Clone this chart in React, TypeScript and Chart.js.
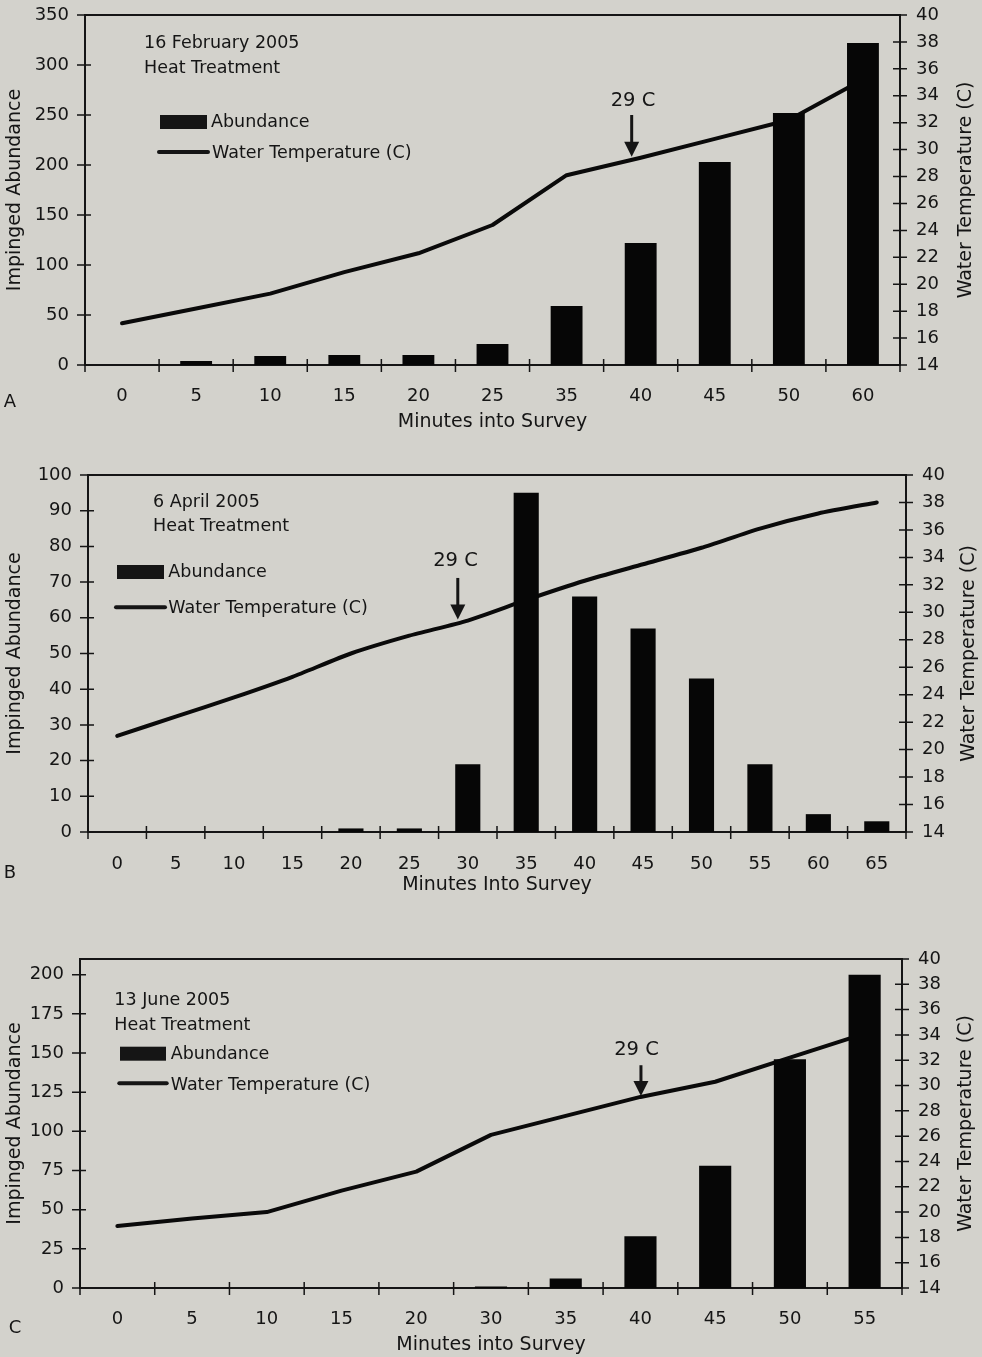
import React, { useEffect, useRef } from 'react';
import { Chart, registerables } from 'chart.js';

Chart.register(...registerables);

// ---------------- data ----------------
const minutesA = ['0', '5', '10', '15', '20', '25', '35', '40', '45', '50', '60'];
const abundanceA = [0, 4, 9, 10, 10, 21, 59, 122, 203, 252, 322];
const temperatureA = [17.1, 18.2, 19.3, 20.9, 22.3, 24.4, 28.1, 29.4, 30.8, 32.2, 35.2];
const abundanceTicksA = [0, 50, 100, 150, 200, 250, 300, 350];
const abundanceMaxA = 350;

const minutesB = ['0', '5', '10', '15', '20', '25', '30', '35', '40', '45', '50', '55', '60', '65'];
const abundanceB = [0, 0, 0, 0, 1, 1, 19, 95, 66, 57, 43, 19, 5, 3];
const temperatureB = [21.0, 22.4, 23.8, 25.3, 27.0, 28.3, 29.4, 30.9, 32.3, 33.5, 34.7, 36.1, 37.2, 38.0];
const abundanceTicksB = [0, 10, 20, 30, 40, 50, 60, 70, 80, 90, 100];
const abundanceMaxB = 100;

const minutesC = ['0', '5', '10', '15', '20', '30', '35', '40', '45', '50', '55'];
const abundanceC = [0, 0, 0, 0, 0, 1, 6, 33, 78, 146, 200];
const temperatureC = [18.9, 19.5, 20.0, 21.7, 23.2, 26.1, 27.6, 29.1, 30.3, 32.2, 34.1];
const abundanceTicksC = [0, 25, 50, 75, 100, 125, 150, 175, 200];
const abundanceMaxC = 210;

const temperatureTicks = [14, 16, 18, 20, 22, 24, 26, 28, 30, 32, 34, 36, 38, 40];
const temperatureMin = 14;
const temperatureMax = 40;

// ---------------- styling ----------------
const FONT = "'DejaVu Sans', 'Liberation Sans', sans-serif";
const INK = '#151515';
const BG = 'rgb(211,210,204)';
const W = 982;

Chart.defaults.font.family = FONT;
Chart.defaults.color = INK;

type PanelCfg = {
  letter: string;
  date: string;
  xTitle: string;
  labels: string[];
  abundance: number[];
  temperature: number[];
  leftTicks: number[];
  leftMax: number;
  tension: number;
  top: number;
  height: number;
  area: { left: number; right: number; top: number; bottom: number };
  xTickPad: number;
  xTitlePad: number;
  letterPos: [number, number];
  rightTitleX: number;
  noteX: number;
  noteY: [number, number];
  legendRect: [number, number, number, number];
  abText: [number, number];
  legendLine: [number, number, number];
  wtText: [number, number];
  arrow: { index: number; dx: number; textDx: number; len: number; gap: number };
};

const panels: PanelCfg[] = [
  {
    letter: 'A', date: '16 February 2005', xTitle: 'Minutes into Survey',
    labels: minutesA, abundance: abundanceA, temperature: temperatureA,
    leftTicks: abundanceTicksA, leftMax: abundanceMaxA, tension: 0,
    top: 0, height: 440,
    area: { left: 85, right: 900, top: 15, bottom: 365 },
    xTickPad: 21, xTitlePad: 7, letterPos: [10, 402], rightTitleX: 966,
    noteX: 144, noteY: [43.3, 68.3],
    legendRect: [160, 115, 47, 14], abText: [211, 122.5],
    legendLine: [159, 208, 152], wtText: [212, 153],
    arrow: { index: 7, dx: -9, textDx: -7.7, len: 41.7, gap: 56 },
  },
  {
    letter: 'B', date: '6 April 2005', xTitle: 'Minutes Into Survey',
    labels: minutesB, abundance: abundanceB, temperature: temperatureB,
    leftTicks: abundanceTicksB, leftMax: abundanceMaxB, tension: 0.2,
    top: 440, height: 460,
    area: { left: 88, right: 906, top: 35, bottom: 392 },
    xTickPad: 22, xTitlePad: 4, letterPos: [10, 433], rightTitleX: 969,
    noteX: 153, noteY: [62.7, 86.7],
    legendRect: [117, 125, 47, 14], abText: [168.3, 132.3],
    legendLine: [116, 165, 167.3], wtText: [168.3, 168.3],
    arrow: { index: 6, dx: -10, textDx: -12.3, len: 41.6, gap: 58.3 },
  },
  {
    letter: 'C', date: '13 June 2005', xTitle: 'Minutes into Survey',
    labels: minutesC, abundance: abundanceC, temperature: temperatureC,
    leftTicks: abundanceTicksC, leftMax: abundanceMaxC, tension: 0,
    top: 900, height: 457,
    area: { left: 80, right: 902, top: 59, bottom: 388 },
    xTickPad: 21, xTitlePad: 1, letterPos: [15, 428], rightTitleX: 966,
    noteX: 114.3, noteY: [100.7, 125],
    legendRect: [120, 146.7, 46, 14], abText: [170.7, 154],
    legendLine: [119.3, 166.7, 183.3], wtText: [170.7, 185],
    arrow: { index: 7, dx: 0.5, textDx: -4, len: 30.7, gap: 46 },
  },
];

function makeDecor(p: PanelCfg) {
  return {
    id: 'decor' + p.letter,
    afterDraw(chart: any) {
      const { ctx, chartArea: a, scales } = chart;
      const x = scales.x;
      const y = scales.y;
      const y1 = scales.y1;
      ctx.save();
      ctx.strokeStyle = INK;
      ctx.fillStyle = INK;

      // top frame line
      ctx.lineWidth = 2;
      ctx.beginPath();
      ctx.moveTo(a.left - 1, a.top);
      ctx.lineTo(a.right + 1, a.top);
      ctx.stroke();

      // crossing tick marks
      ctx.lineWidth = 1.5;
      ctx.beginPath();
      p.leftTicks.forEach((v) => {
        const py = y.getPixelForValue(v);
        ctx.moveTo(a.left - 8, py);
        ctx.lineTo(a.left + 6, py);
      });
      temperatureTicks.forEach((v) => {
        const py = y1.getPixelForValue(v);
        ctx.moveTo(a.right - 7, py);
        ctx.lineTo(a.right + 7, py);
      });
      const n = p.labels.length;
      for (let i = 0; i <= n; i++) {
        const px = a.left + (i * (a.right - a.left)) / n;
        ctx.moveTo(px, a.bottom - 6);
        ctx.lineTo(px, a.bottom + 7);
      }
      ctx.stroke();

      // annotation text
      ctx.textBaseline = 'middle';
      ctx.textAlign = 'left';
      ctx.font = `17.5px ${FONT}`;
      ctx.fillText(p.date, p.noteX, p.noteY[0]);
      ctx.fillText('Heat Treatment', p.noteX, p.noteY[1]);

      // legend
      const [rx, ry, rw, rh] = p.legendRect;
      ctx.fillRect(rx, ry, rw, rh);
      ctx.fillText('Abundance', p.abText[0], p.abText[1]);
      ctx.lineWidth = 4;
      ctx.lineCap = 'round';
      ctx.beginPath();
      ctx.moveTo(p.legendLine[0], p.legendLine[2]);
      ctx.lineTo(p.legendLine[1], p.legendLine[2]);
      ctx.stroke();
      ctx.lineCap = 'butt';
      ctx.fillText('Water Temperature (C)', p.wtText[0], p.wtText[1]);

      // 29 C arrow
      const ar = p.arrow;
      const cx = x.getPixelForValue(ar.index) + ar.dx;
      const tip = y1.getPixelForValue(p.temperature[ar.index]) - 1;
      ctx.lineWidth = 3;
      ctx.beginPath();
      ctx.moveTo(cx, tip - ar.len);
      ctx.lineTo(cx, tip - 12);
      ctx.stroke();
      ctx.beginPath();
      ctx.moveTo(cx - 7.5, tip - 15);
      ctx.lineTo(cx + 7.5, tip - 15);
      ctx.lineTo(cx, tip);
      ctx.closePath();
      ctx.fill();
      ctx.font = `19.5px ${FONT}`;
      ctx.textAlign = 'center';
      ctx.fillText('29 C', cx - ar.dx + ar.textDx, tip - ar.gap);

      // panel letter
      ctx.font = `18px ${FONT}`;
      ctx.fillText(p.letter, p.letterPos[0], p.letterPos[1]);

      // right axis title (reads bottom to top)
      ctx.save();
      ctx.font = `19px ${FONT}`;
      ctx.translate(p.rightTitleX, (a.top + a.bottom) / 2);
      ctx.rotate(-Math.PI / 2);
      ctx.textAlign = 'center';
      ctx.fillText('Water Temperature (C)', 0, 0);
      ctx.restore();

      ctx.restore();
    },
  };
}

function buildConfig(p: PanelCfg): any {
  const tickFont = { family: FONT, size: 18 };
  const titleFont = { family: FONT, size: 19 };
  const border = { display: true, color: INK, width: 2 };
  const noGrid = { display: false, drawTicks: false, tickLength: 0 };
  return {
    type: 'bar',
    data: {
      labels: p.labels,
      datasets: [
        {
          type: 'bar',
          label: 'Abundance',
          data: p.abundance,
          backgroundColor: '#060606',
          borderWidth: 0,
          yAxisID: 'y',
          barPercentage: 0.43,
          categoryPercentage: 1,
          order: 1,
        },
        {
          type: 'line',
          label: 'Water Temperature (C)',
          data: p.temperature,
          borderColor: '#0a0a0a',
          borderWidth: 4,
          pointRadius: 0,
          tension: p.tension,
          borderCapStyle: 'round',
          borderJoinStyle: 'round',
          yAxisID: 'y1',
          order: 2,
        },
      ],
    },
    options: {
      responsive: false,
      maintainAspectRatio: false,
      animation: false,
      layout: { padding: { top: p.area.top, left: 0, right: 0, bottom: 0 } },
      plugins: { legend: { display: false }, tooltip: { enabled: false } },
      scales: {
        x: {
          type: 'category',
          offset: true,
          grid: { ...noGrid, offset: true },
          border,
          ticks: { font: tickFont, color: INK, padding: p.xTickPad, maxRotation: 0, autoSkip: false },
          title: { display: true, text: p.xTitle, font: titleFont, color: INK, padding: { top: 0, bottom: p.xTitlePad } },
          afterFit: (s: any) => {
            s.height = p.height - p.area.bottom;
            s.paddingLeft = 0;
            s.paddingRight = 0;
          },
        },
        y: {
          position: 'left',
          min: 0,
          max: p.leftMax,
          grid: noGrid,
          border,
          afterBuildTicks: (s: any) => { s.ticks = p.leftTicks.map((v) => ({ value: v })); },
          ticks: { font: tickFont, color: INK, padding: 16 },
          title: { display: true, text: 'Impinged Abundance', font: titleFont, color: INK, padding: { top: 4, bottom: 0 } },
          afterFit: (s: any) => {
            s.width = p.area.left;
            s.paddingTop = 0;
            s.paddingBottom = 0;
          },
        },
        y1: {
          position: 'right',
          min: temperatureMin,
          max: temperatureMax,
          grid: noGrid,
          border,
          afterBuildTicks: (s: any) => { s.ticks = temperatureTicks.map((v) => ({ value: v })); },
          ticks: { font: tickFont, color: INK, padding: 16 },
          title: { display: false },
          afterFit: (s: any) => {
            s.width = W - p.area.right;
            s.paddingTop = 0;
            s.paddingBottom = 0;
          },
        },
      },
    },
    plugins: [makeDecor(p)],
  };
}

function Panel({ p }: { p: PanelCfg }) {
  const ref = useRef<HTMLCanvasElement>(null);
  useEffect(() => {
    const chart = new Chart(ref.current as HTMLCanvasElement, buildConfig(p));
    return () => chart.destroy();
  }, [p]);
  return (
    <canvas
      ref={ref}
      width={W}
      height={p.height}
      style={{ position: 'absolute', left: 0, top: p.top, width: W, height: p.height, display: 'block' }}
    />
  );
}

export default function App() {
  useEffect(() => {
    document.body.style.margin = '0';
    document.body.style.background = BG;
  }, []);
  return (
    <div style={{ position: 'absolute', left: 0, top: 0, width: W, height: 1357, background: BG, overflow: 'hidden' }}>
      {panels.map((p) => (
        <Panel key={p.letter} p={p} />
      ))}
    </div>
  );
}
